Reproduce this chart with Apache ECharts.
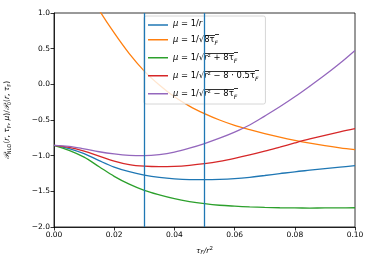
<!DOCTYPE html>
<html>
<head>
<meta charset="utf-8">
<script src="https://cdn.jsdelivr.net/npm/echarts@6/dist/echarts.min.js"></script>
<style>
html,body{margin:0;padding:0;background:#fff;}
#c{width:374px;height:268px;}
</style>
</head>
<body>
<div id="c"></div>
<script>
// x values: tau_F / r^2
const xVals = [0, 0.005, 0.01, 0.015, 0.02, 0.025, 0.03, 0.035, 0.04, 0.045, 0.05,
               0.055, 0.06, 0.065, 0.07, 0.075, 0.08, 0.085, 0.09, 0.095, 0.1];
// mu = 1/r
const muR = [-0.855, -0.9, -0.972, -1.07, -1.16, -1.225, -1.272, -1.305, -1.326, -1.336, -1.337,
             -1.333, -1.322, -1.303, -1.278, -1.252, -1.226, -1.204, -1.182, -1.161, -1.14];
// mu = 1/sqrt(8 tau_F)
const muTau = [null, null, 1.4, 1.04, 0.72, 0.43, 0.185, -0.01, -0.175, -0.305, -0.41,
               -0.5, -0.575, -0.635, -0.69, -0.74, -0.785, -0.825, -0.86, -0.89, -0.916];
// mu = 1/sqrt(r^2 + 8 tau_F)
const muPlus = [-0.855, -0.925, -1.02, -1.155, -1.29, -1.4, -1.487, -1.55, -1.603, -1.643, -1.673,
                -1.695, -1.708, -1.718, -1.725, -1.73, -1.733, -1.734, -1.733, -1.732, -1.73];
// mu = 1/sqrt(r^2 - 8*0.5 tau_F)
const muHalf = [-0.855, -0.883, -0.935, -1.005, -1.075, -1.125, -1.148, -1.155, -1.15, -1.135, -1.112,
                -1.08, -1.038, -0.99, -0.937, -0.88, -0.822, -0.766, -0.714, -0.666, -0.622];
// mu = 1/sqrt(r^2 - 8 tau_F)
const muMinus = [-0.855, -0.87, -0.905, -0.945, -0.975, -0.995, -1.0, -0.985, -0.95, -0.895, -0.83,
                 -0.755, -0.67, -0.57, -0.445, -0.315, -0.175, -0.025, 0.13, 0.295, 0.475];
const vLines = [0.03, 0.05];
const xTicks = [0, 0.02, 0.04, 0.06, 0.08, 0.1];
const yTicks = [-2, -1.5, -1, -0.5, 0, 0.5, 1];

const names = ['μ = 1/r', 'μ = 1/√(8τF)', 'μ = 1/√(r²+8τF)', 'μ = 1/√(r²−8·0.5τF)', 'μ = 1/√(r²−8τF)'];
const colors = ['#1f77b4', '#ff7f0e', '#2ca02c', '#d62728', '#9467bd'];
const seriesData = [muR, muTau, muPlus, muHalf, muMinus];

// small image used as an overline (top edge only) behind the radicand
const olCanvas = document.createElement('canvas');
olCanvas.width = 4; olCanvas.height = 28;
(function () {
  const g = olCanvas.getContext('2d');
  g.fillStyle = '#333';
  g.fillRect(0, 0, 4, 3);
})();

const FS = 7.5;
const LF = 8.4;
const SP = ' ';
const legendRich = {
  t: {fontFamily: 'DejaVu Sans', fontSize: LF, color: '#000', verticalAlign: 'bottom', padding: [0, 0, 2, 0]},
  i: {fontFamily: 'DejaVu Sans', fontSize: LF, fontStyle: 'italic', color: '#000', verticalAlign: 'bottom', padding: [0, 0, 2, 0]},
  o: {fontFamily: 'DejaVu Sans', fontSize: LF, color: '#000', verticalAlign: 'bottom', padding: [1.5, 0, 2, 0],
      backgroundColor: {image: olCanvas}},
  oi: {fontFamily: 'DejaVu Sans', fontSize: LF, fontStyle: 'italic', color: '#000', verticalAlign: 'bottom', padding: [1.5, 0, 2, 0],
      backgroundColor: {image: olCanvas}},
  os: {fontFamily: 'DejaVu Sans', fontSize: 6, fontStyle: 'italic', color: '#000', verticalAlign: 'bottom', padding: [6.5, 1, 0, 0],
      backgroundColor: {image: olCanvas}}
};
const legendText = {};
legendText[names[0]] = '{i|μ}{t|' + SP + '=' + SP + '1/}{i|r}';
legendText[names[1]] = '{i|μ}{t|' + SP + '=' + SP + '1/√}{o|8τ}{os|F}';
legendText[names[2]] = '{i|μ}{t|' + SP + '=' + SP + '1/√}{oi|r}{o|²' + SP + '+' + SP + '8τ}{os|F}';
legendText[names[3]] = '{i|μ}{t|' + SP + '=' + SP + '1/√}{oi|r}{o|²' + SP + '−' + SP + '8' + SP + '·' + SP + '0.5τ}{os|F}';
legendText[names[4]] = '{i|μ}{t|' + SP + '=' + SP + '1/√}{oi|r}{o|²' + SP + '−' + SP + '8τ}{os|F}';

const series = names.map((n, k) => ({
  name: n,
  type: 'line',
  data: xVals.map((x, j) => [x, seriesData[k][j]]),
  smooth: 0.35,
  symbol: 'none',
  clip: true,
  lineStyle: {color: colors[k], width: 1.3},
  itemStyle: {color: colors[k]},
  z: 3
}));
series[0].markLine = {
  silent: true,
  symbol: ['none', 'none'],
  label: {show: false},
  lineStyle: {color: colors[0], width: 1.3, type: 'solid'},
  data: vLines.map(v => ({xAxis: v}))
};

const chart = echarts.init(document.getElementById('c'), null, {renderer: 'canvas'});
chart.setOption({
  animation: false,
  backgroundColor: '#fff',
  textStyle: {fontFamily: 'DejaVu Sans'},
  grid: {left: 54, right: 19, top: 13, bottom: 41, show: true, borderColor: '#000', borderWidth: 0.8,
         containLabel: false, outerBoundsMode: 'none'},
  legend: {
    left: 144, top: 16,
    orient: 'vertical',
    icon: 'rect',
    itemWidth: 20, itemHeight: 1.5, itemGap: 5.5,
    padding: [4, 6, 4, 4],
    backgroundColor: 'rgba(255,255,255,0.8)',
    borderColor: '#cccccc', borderWidth: 0.8, borderRadius: 2,
    formatter: n => legendText[n],
    textStyle: {rich: legendRich, fontSize: LF},
    data: names
  },
  xAxis: {
    type: 'value', min: 0, max: 0.1, interval: 0.02,
    name: '{i|τ}{s|F}{i|/r}{p|2}',
    nameLocation: 'middle', nameGap: 19,
    nameTextStyle: {rich: {
      i: {fontFamily: 'DejaVu Sans', fontSize: FS, fontStyle: 'italic', color: '#000'},
      s: {fontFamily: 'DejaVu Sans', fontSize: 5.5, fontStyle: 'italic', color: '#000', padding: [4, 0, 0, 0]},
      p: {fontFamily: 'DejaVu Sans', fontSize: 5.5, color: '#000', padding: [0, 0, 4, 0]}
    }},
    splitLine: {show: false},
    axisLine: {show: true, onZero: false, lineStyle: {color: '#000', width: 0.8}},
    axisTick: {show: true, length: 3.5, lineStyle: {color: '#000', width: 0.8}},
    axisLabel: {color: '#000', fontSize: FS, fontFamily: 'DejaVu Sans', margin: 4,
                formatter: v => xTicks.some(t => Math.abs(t - v) < 1e-9) ? v.toFixed(2) : ''}
  },
  yAxis: {
    type: 'value', min: -2, max: 1, interval: 0.5,
    name: '{p|𝒫}{s|NLO}{t|(}{i|r}{t|, }{i|τ}{s|F}{t|, }{i|μ}{t|)/}{p|𝒫}{s|0}{t|(}{i|r}{t|, }{i|τ}{s|F}{t|)}',
    nameLocation: 'middle', nameGap: 42, nameRotate: 90,
    nameTextStyle: {rich: {
      t: {fontFamily: 'DejaVu Sans', fontSize: FS, color: '#000'},
      i: {fontFamily: 'DejaVu Sans', fontSize: FS, fontStyle: 'italic', color: '#000'},
      p: {fontFamily: 'DejaVu Sans', fontSize: FS, fontStyle: 'italic', color: '#000'},
      s: {fontFamily: 'DejaVu Sans', fontSize: 5.2, color: '#000', padding: [4, 0, 0, 0]}
    }},
    splitLine: {show: false},
    axisLine: {show: true, onZero: false, lineStyle: {color: '#000', width: 0.8}},
    axisTick: {show: true, length: 3.5, lineStyle: {color: '#000', width: 0.8}},
    axisLabel: {color: '#000', fontSize: FS, fontFamily: 'DejaVu Sans', margin: 4,
                formatter: v => yTicks.some(t => Math.abs(t - v) < 1e-9) ? v.toFixed(1).replace('-', '−') : ''}
  },
  series: series
});
</script>
</body>
</html>
